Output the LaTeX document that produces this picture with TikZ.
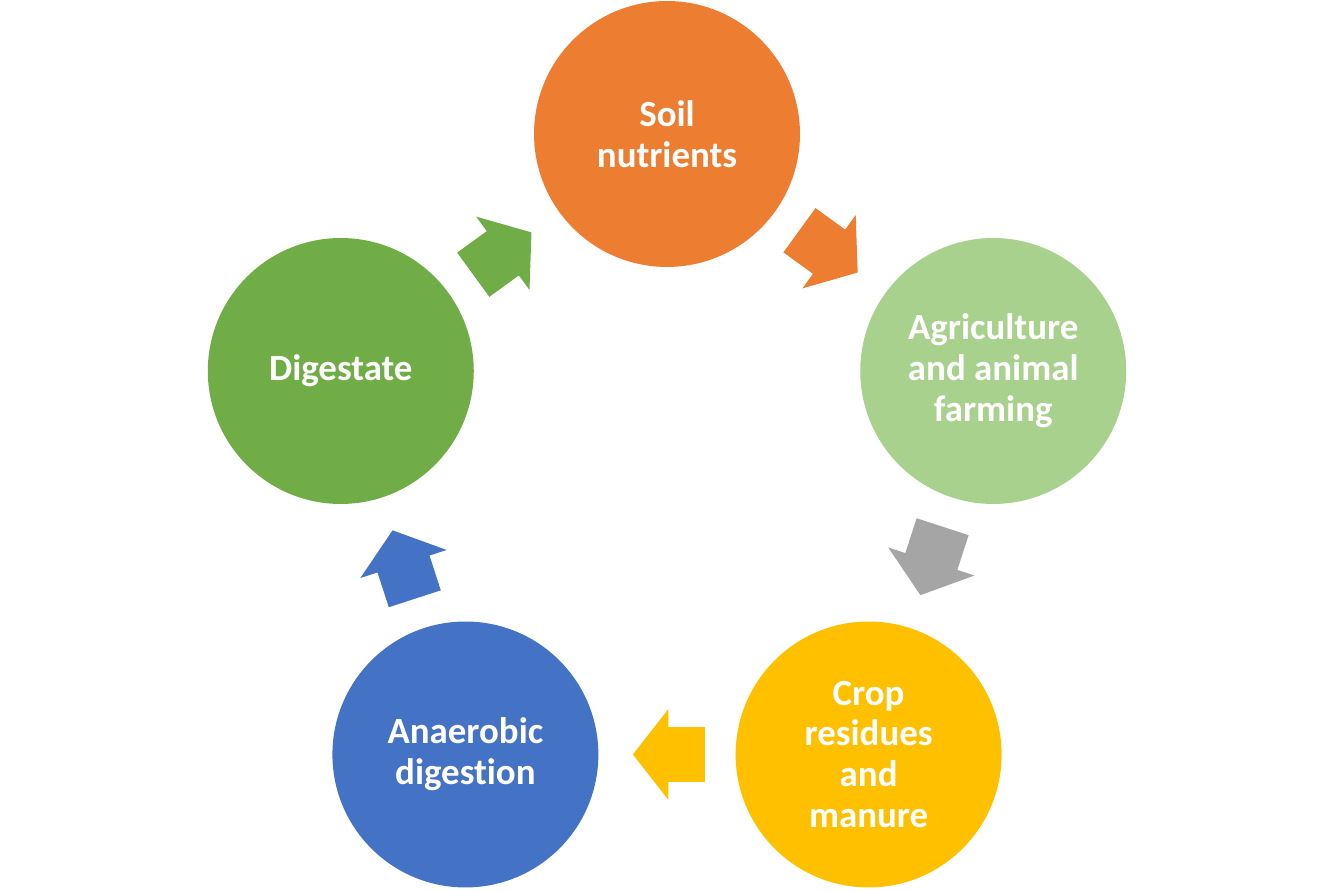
\documentclass[tikz,border=0pt]{standalone}
\usepackage{fontspec}
\setmainfont[Ligatures=NoCommon]{Carlito}
\usetikzlibrary{shapes.arrows}
\definecolor{soilorange}{HTML}{ED7D31}
\definecolor{agrigreen}{HTML}{A9D18E}
\definecolor{cropyellow}{HTML}{FFC000}
\definecolor{anaeblue}{HTML}{4472C4}
\definecolor{digegreen}{HTML}{70AD47}
\definecolor{arrowgray}{HTML}{A5A5A5}
\begin{document}
\begin{tikzpicture}[
  font=\bfseries\fontsize{21}{23.3}\selectfont,
  x=0.02cm, y=0.02cm,
  stage/.style={circle, minimum size=5.32cm, inner sep=0pt, text=white, align=center},
  blk/.style={single arrow, draw=none, inner xsep=0pt, inner ysep=0.54cm,
    minimum height=1.44cm, single arrow head extend=0.36cm,
    single arrow tip angle=104, sloped, allow upside down, anchor=tail},
]
\useasboundingbox (0,0) rectangle (1334,891);
\coordinate (o) at (667,414);
\foreach \n/\a/\c/\t in {soil/90/soilorange/Soil\\nutrients,
    agri/18/agrigreen/Agriculture\\and animal\\farming,
    crop/-54/cropyellow/Crop\\residues\\and\\manure,
    anae/-126/anaeblue/Anaerobic\\digestion,
    dige/162/digegreen/Digestate} {
  \node[stage, fill=\c] (\n) at ([shift={(\a:343)}]o) {\t};
}
\foreach \f/\g/\c in {soil/agri/soilorange, agri/crop/arrowgray,
    crop/anae/cropyellow, anae/dige/anaeblue, dige/soil/digegreen} {
  \path (\f) -- node[blk, fill=\c, pos=0.22] (\f-\g) {} (\g);
}
\end{tikzpicture}
\end{document}
